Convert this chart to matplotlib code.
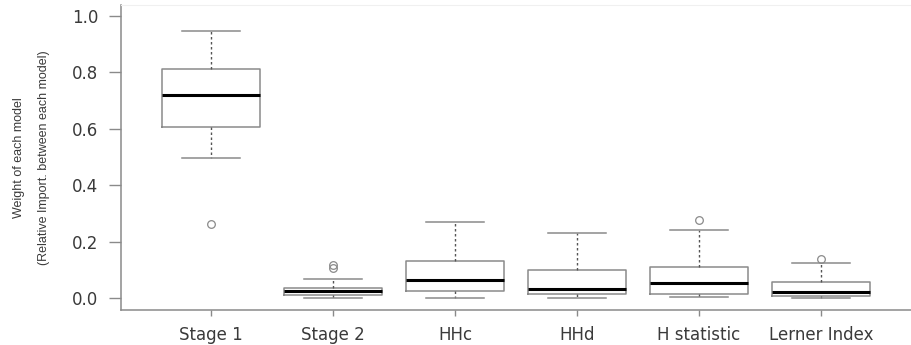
import matplotlib
matplotlib.use("Agg")
import matplotlib.pyplot as plt

plt.rcParams["font.family"] = ["DejaVu Sans"]

# values
labels = ["Stage 1", "Stage 2", "HHc", "HHd", "H statistic", "Lerner Index"]
whislo = [0.496, 0.000, 0.001, 0.000, 0.004, 0.001]
q1 = [0.605, 0.012, 0.025, 0.013, 0.013, 0.008]
med = [0.721, 0.025, 0.062, 0.033, 0.053, 0.020]
q3 = [0.811, 0.034, 0.130, 0.099, 0.108, 0.056]
whishi = [0.947, 0.066, 0.271, 0.229, 0.240, 0.123]
fliers = [[0.261], [0.106, 0.117], [], [], [0.278], [0.139]]

stats = []
for i, lab in enumerate(labels):
    stats.append({
        "label": lab, "whislo": whislo[i], "q1": q1[i], "med": med[i],
        "q3": q3[i], "whishi": whishi[i], "fliers": fliers[i],
    })

grey = "#8a8a8a"
txt = "#3a3a3a"

fig = plt.figure(figsize=(9.11, 3.45), dpi=100)
ax = fig.add_axes([0.1328, 0.1014, 0.8672, 0.8841])

ax.bxp(
    stats, positions=range(1, 7), widths=0.8, capwidths=0.48, showfliers=True,
    boxprops=dict(color=grey, linewidth=1.1),
    whiskerprops=dict(color="#555555", linewidth=1.0, linestyle=(0, (1.8, 1.8))),
    capprops=dict(color=grey, linewidth=1.1),
    medianprops=dict(color="black", linewidth=2.2),
    flierprops=dict(marker="o", markersize=5.5, markerfacecolor="none",
                    markeredgecolor=grey, markeredgewidth=0.9),
)

ax.set_xlim(0.26, 6.74)
ax.set_ylim(-0.043, 1.039)
ax.set_yticks([0.0, 0.2, 0.4, 0.6, 0.8, 1.0])
ax.set_yticklabels(["0.0", "0.2", "0.4", "0.6", "0.8", "1.0"])
ax.set_xticks(range(1, 7))
ax.set_xticklabels(labels)

ax.spines["right"].set_visible(False)
ax.spines["top"].set_color("#f0f0f0")
for side in ["left", "bottom"]:
    ax.spines[side].set_color(grey)
    ax.spines[side].set_linewidth(1.1)

ax.tick_params(axis="y", length=8.4, width=1.0, color=grey, labelsize=12,
               labelcolor=txt, pad=8)
ax.tick_params(axis="x", length=4.3, width=1.0, color=grey, labelsize=12,
               labelcolor=txt, pad=7)

ax.set_ylabel("Weight of each model\n(Relative Import. between each model)",
              fontsize=9, color=txt, linespacing=2.45,
              family=["Liberation Sans", "DejaVu Sans"])
ax.yaxis.set_label_coords(-0.0895, 0.5)

fig.savefig("out.png", dpi=100)
